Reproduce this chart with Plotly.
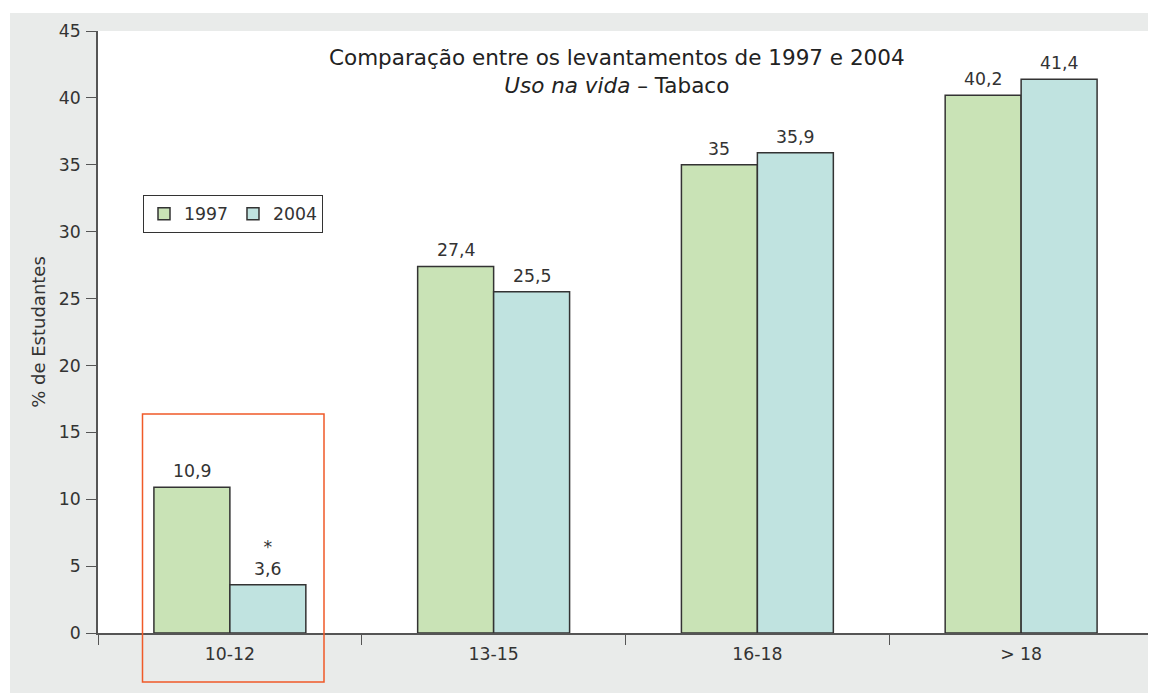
import plotly.graph_objects as go

categories = ["10-12", "13-15", "16-18", "> 18"]
years = ["1997", "2004"]
values_1997 = [10.9, 27.4, 35.0, 40.2]
values_2004 = [3.6, 25.5, 35.9, 41.4]
notes_2004 = ["*", "", "", ""]
y_ticks = list(range(0, 50, 5))

# the page body has an 8px margin, so the figure is 8px smaller than the window
OFF = 8
W, H = 1156 - OFF, 693 - OFF
L, R, T, B = 98 - OFF, 3, 31 - OFF, 60
pw, ph = W - L - R, H - T - B


def px_x(p):  # page pixel -> paper x
    return (p - 98) / pw


def px_y(p):  # page pixel -> paper y
    return (633 - p) / ph


def fmt(v):
    return ("%g" % v).replace(".", ",")


FONT = "DejaVu Sans"
SZ = 17.3
TXT = "#333333"
colors = ["#c9e3b6", "#c0e3e0"]

fig = go.Figure()
for name, vals, col in zip(years, [values_1997, values_2004], colors):
    fig.add_trace(go.Bar(
        name=name, x=categories, y=vals,
        marker=dict(color=col, line=dict(color="#333333", width=1.5)),
    ))

bar_w = (1 - 0.424) / 2
annotations = []
for i, c in enumerate(categories):
    for j, vals in enumerate([values_1997, values_2004]):
        off = (j - 0.5) * bar_w
        txt = fmt(vals[i])
        if j == 1 and notes_2004[i]:
            txt = notes_2004[i] + "<br>" + txt
        annotations.append(dict(
            x=i + off, y=vals[i], xref="x", yref="y", text=txt,
            showarrow=False, yanchor="bottom", yshift=4,
            font=dict(family=FONT, size=SZ, color=TXT),
        ))

annotations.append(dict(
    x=px_x(616.5), y=px_y(43), xref="paper", yref="paper",
    text="Comparação entre os levantamentos de 1997 e 2004<br><i>Uso na vida</i> – Tabaco",
    showarrow=False, xanchor="center", yanchor="top",
    font=dict(family=FONT, size=21.5, color="#222222"),
))

shapes = [
    dict(type="rect", xref="paper", yref="paper", layer="below",
         x0=px_x(10), x1=px_x(1160), y0=px_y(700), y1=px_y(13),
         fillcolor="#e9ebea", line=dict(width=0)),
    dict(type="rect", xref="paper", yref="paper", layer="below",
         x0=0, x1=1, y0=0, y1=1,
         fillcolor="white", line=dict(width=0)),
    dict(type="rect", xref="paper", yref="paper", layer="above",
         x0=px_x(142.5), x1=px_x(324), y0=px_y(682), y1=px_y(414),
         fillcolor="rgba(0,0,0,0)", line=dict(color="#f05a28", width=1.5)),
]

fig.update_layout(
    width=W, height=H,
    margin=dict(l=L, r=R, t=T, b=B, pad=0),
    paper_bgcolor="white", plot_bgcolor="white",
    barmode="group", bargap=0.424, bargroupgap=0,
    font=dict(family=FONT, size=SZ, color=TXT),
    showlegend=True,
    legend=dict(
        orientation="h", x=px_x(143), y=px_y(195), xanchor="left", yanchor="top",
        bgcolor="white", bordercolor="#333333", borderwidth=1,
        font=dict(family=FONT, size=SZ, color=TXT),
        traceorder="normal",
    ),
    annotations=annotations,
    shapes=shapes,
    xaxis=dict(
        type="category", range=[-0.5, 3.5],
        showline=True, linecolor="#555555", linewidth=1.5,
        ticks="outside", tickson="boundaries", ticklen=10, tickwidth=1.2, tickcolor="#555555",
        showgrid=False, zeroline=False, ticklabelstandoff=4,
        tickfont=dict(family=FONT, size=SZ, color=TXT),
    ),
    yaxis=dict(
        range=[0, 45], tickvals=y_ticks,
        showline=True, linecolor="#555555", linewidth=1.5,
        ticks="outside", ticklen=10, tickwidth=1.2, tickcolor="#555555",
        showgrid=False, zeroline=False, ticklabelstandoff=2,
        tickfont=dict(family=FONT, size=SZ, color=TXT),
        title=dict(text="% de Estudantes", standoff=8,
                   font=dict(family=FONT, size=18, color=TXT)),
    ),
)

fig.write_html("out.html")
